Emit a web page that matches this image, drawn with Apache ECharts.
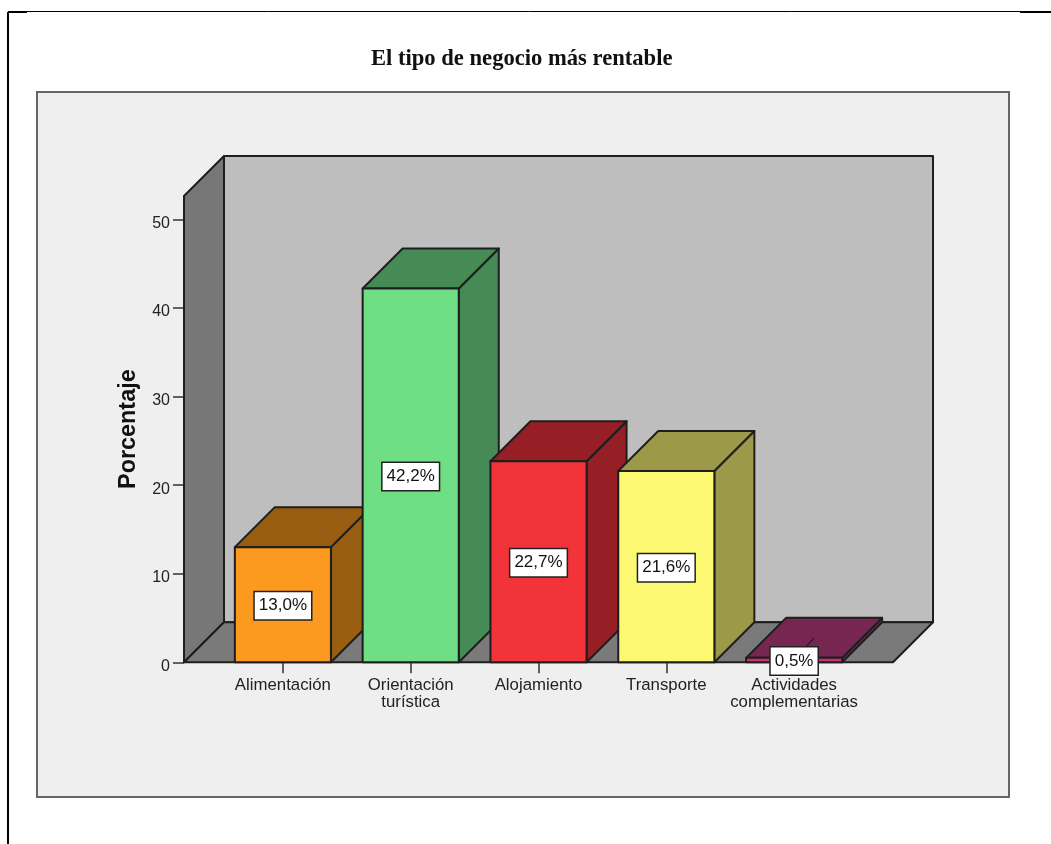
<!DOCTYPE html>
<html><head><meta charset="utf-8">
<style>html,body{margin:0;padding:0;background:#fff}#c{width:1051px;height:844px}</style>
<script src="https://cdn.jsdelivr.net/npm/echarts@6/dist/echarts.min.js"></script>
</head><body><div id="c"></div>
<script>
const categories = ['Alimentación', 'Orientación\nturística', 'Alojamiento', 'Transporte', 'Actividades\ncomplementarias'];
const values = [13.0, 42.2, 22.7, 21.6, 0.5];
const valueLabels = ['13,0%', '42,2%', '22,7%', '21,6%', '0,5%'];
const yTicks = [0, 10, 20, 30, 40, 50];
const frontColors = ['#FB9A1E', '#70DE85', '#F2333A', '#FDF872', '#C9306F'];
const sideColors = ['#985D10', '#468A55', '#951F24', '#9C9A48', '#762650'];

const DEPTH = 40, OVERHANG = 35, EDGE = '#1e1e1e';
const poly = (points, fill, w) => ({
  type: 'polygon', shape: { points },
  style: { fill, stroke: EDGE, lineWidth: w || 2, lineJoin: 'round' }
});

function renderWalls(params) {
  const c = params.coordSys;
  const l = c.x - OVERHANG, r = c.x + c.width + OVERHANG, t = c.y, b = c.y + c.height;
  return { type: 'group', children: [
    poly([[l + DEPTH, t - DEPTH], [r + DEPTH, t - DEPTH], [r + DEPTH, b - DEPTH], [l + DEPTH, b - DEPTH]], '#BEBEBE', 2),
    poly([[l, t], [l + DEPTH, t - DEPTH], [l + DEPTH, b - DEPTH], [l, b]], '#777777', 2),
    poly([[l, b], [l + DEPTH, b - DEPTH], [r + DEPTH, b - DEPTH], [r, b]], '#7A7A7A', 2)
  ]};
}

function renderBar(params, api) {
  const i = api.value(0), v = api.value(1);
  const base = api.coord([i, 0]), top = api.coord([i, v]);
  const w = api.size([1, 0])[0] * 0.752;
  const l = base[0] - w / 2, r = base[0] + w / 2, b = base[1], t = top[1];
  const children = [
    poly([[r, t], [r + DEPTH, t - DEPTH], [r + DEPTH, b - DEPTH], [r, b]], sideColors[i]),
    poly([[l, t], [l + DEPTH, t - DEPTH], [r + DEPTH, t - DEPTH], [r, t]], sideColors[i]),
    poly([[l, t], [r, t], [r, b], [l, b]], frontColors[i])
  ];
  const cy = (t + b) / 2;
  if (b - t < 28) {
    children.push({ type: 'line',
      shape: { x1: base[0], y1: cy, x2: base[0] + DEPTH / 2, y2: t - DEPTH / 2 },
      style: { stroke: EDGE, lineWidth: 1.2 } });
  }
  children.push({ type: 'text', x: base[0], y: cy + 1, style: {
    text: valueLabels[i], align: 'center', verticalAlign: 'middle',
    font: '17px "Liberation Sans"', fill: '#111',
    backgroundColor: '#fff', borderColor: '#222', borderWidth: 1.5,
    padding: [7, 4, 4, 4], lineHeight: 16
  }});
  return { type: 'group', children };
}

const chart = echarts.init(document.getElementById('c'), null, { renderer: 'canvas' });
chart.setOption({
  animation: false,
  backgroundColor: '#fff',
  title: {
    text: 'El tipo de negocio más rentable', left: 366, top: 43, textAlign: 'left',
    textStyle: { fontFamily: '"Liberation Serif"', fontWeight: 'bold', fontSize: 22.6, color: '#111' }
  },
  graphic: [
    { type: 'rect', z: -10, shape: { x: 37, y: 92, width: 972, height: 705 },
      style: { fill: '#EFEFEF', stroke: '#666', lineWidth: 2 } },
    { type: 'line', z: -10, shape: { x1: 8, y1: 844, x2: 8, y2: 12 }, style: { stroke: '#000', lineWidth: 2 } },
    { type: 'line', z: -10, shape: { x1: 8, y1: 11.5, x2: 1051, y2: 11.5 }, style: { stroke: '#000', lineWidth: 1 } },
    { type: 'line', z: -10, shape: { x1: 8, y1: 12, x2: 27, y2: 12 }, style: { stroke: '#000', lineWidth: 2 } },
    { type: 'line', z: -10, shape: { x1: 1020, y1: 12, x2: 1051, y2: 12 }, style: { stroke: '#000', lineWidth: 2 } }
  ],
  grid: { left: 219, top: 196, width: 639, height: 466.3 },
  xAxis: {
    type: 'category', data: categories, boundaryGap: true,
    axisLine: { show: false },
    axisTick: { show: true, alignWithLabel: true, length: 11, lineStyle: { color: '#333', width: 1.5 } },
    axisLabel: { interval: 0, margin: 15, fontFamily: '"Liberation Sans"', fontSize: 16.8, lineHeight: 17, color: '#222' }
  },
  yAxis: {
    type: 'value', min: 0, max: 52.65, offset: 35,
    name: 'Porcentaje', nameLocation: 'middle', nameGap: 44, nameRotate: 90,
    nameTextStyle: { fontFamily: '"Liberation Sans"', fontWeight: 'bold', fontSize: 23.4, color: '#111' },
    splitLine: { show: false },
    axisLine: { show: true, lineStyle: { color: '#222', width: 1.5 } },
    axisTick: { show: true, length: 11, customValues: yTicks, lineStyle: { color: '#333', width: 1.5 } },
    axisLabel: {
      customValues: yTicks, margin: 14,
      formatter: v => '{t|' + v + '}',
      rich: { t: { padding: [8, 0, 0, 0], fontFamily: '"Liberation Sans"', fontSize: 16, color: '#222' } }
    }
  },
  series: [
    { type: 'custom', silent: true, z: 2, renderItem: renderWalls, data: [[0, 0]] },
    { type: 'custom', silent: true, z: 3, renderItem: renderBar, encode: { x: 0, y: 1 },
      data: values.map((v, i) => [i, v]) }
  ]
});
</script></body></html>
